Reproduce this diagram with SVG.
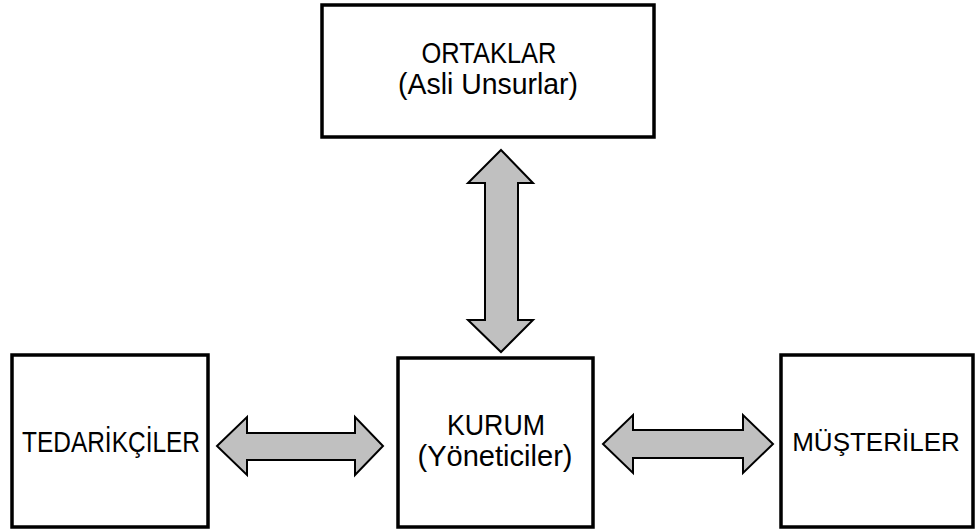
<svg xmlns="http://www.w3.org/2000/svg" width="975" height="529" viewBox="0 0 975 529">
  <style>
    .box { fill: #ffffff; stroke: #000000; stroke-width: 3.5; }
    .arrow { fill: #c0c0c0; stroke: #000000; stroke-width: 2; stroke-linejoin: miter; }
    .label { font-family: "Liberation Sans", Arial, sans-serif; font-size: 29px; fill: #000000; text-anchor: middle; }
    .label.small { font-size: 26px; }
  </style>
  <rect width="975" height="529" fill="#ffffff"/>

  <!-- block arrows between the organisation and its stakeholders -->
  <g id="connectors">
    <polygon class="arrow" points="501,150 533,183 518,183 518,320 533,320 501,352 468,320 485,320 485,183 468,183"/>
    <polygon class="arrow" points="217,446 247,417 247,433 355,433 355,417 383,446 355,475 355,460 247,460 247,475"/>
    <polygon class="arrow" points="603,444 633,415 633,430 743,430 743,415 773,444 743,473 743,458 633,458 633,473"/>
  </g>

  <g id="ortaklar">
    <rect class="box" x="322" y="5" width="332" height="132"/>
    <text class="label" x="489" y="63" textLength="135" lengthAdjust="spacingAndGlyphs">ORTAKLAR</text>
    <text class="label" x="488" y="94" textLength="180" lengthAdjust="spacingAndGlyphs">(Asli Unsurlar)</text>
  </g>

  <g id="tedarikciler">
    <rect class="box" x="12" y="355" width="196" height="172"/>
    <text class="label" x="111" y="452" textLength="178" lengthAdjust="spacingAndGlyphs">TEDARİKÇİLER</text>
  </g>

  <g id="kurum">
    <rect class="box" x="398" y="358" width="195" height="169"/>
    <text class="label" x="496" y="435" textLength="98" lengthAdjust="spacingAndGlyphs">KURUM</text>
    <text class="label" x="495" y="466" textLength="155" lengthAdjust="spacingAndGlyphs">(Yöneticiler)</text>
  </g>

  <g id="musteriler">
    <rect class="box" x="781" y="355" width="192" height="172"/>
    <text class="label small" x="876" y="451">MÜŞTERİLER</text>
  </g>
</svg>
